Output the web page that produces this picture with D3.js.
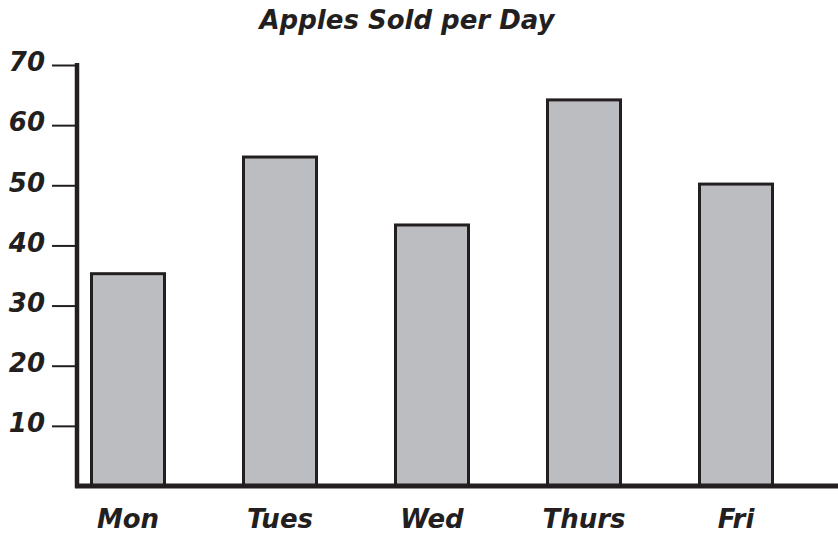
<!DOCTYPE html>
<html>
<head>
<meta charset="utf-8">
<script src="https://cdn.jsdelivr.net/npm/d3@7"></script>
<style>
  body { margin: 0; background: #fff; }
  text { font-family: "DejaVu Sans", sans-serif; font-weight: bold; font-style: italic; fill: #231f20; }
</style>
</head>
<body>
<div id="chart"></div>
<script>
// data
var days = ["Mon", "Tues", "Wed", "Thurs", "Fri"];
var apples = [35.3, 54.7, 43.4, 64.2, 50.2];
var yTicks = [10, 20, 30, 40, 50, 60, 70];

var width = 838, height = 533;

const svg = d3.select("#chart")
  .append("svg")
    .attr("width", width)
    .attr("height", height);

var x = d3.scaleBand()
  .domain(days)
  .range([52, 812])
  .paddingInner(0.5)
  .paddingOuter(0.25);

var y = d3.scaleLinear()
  .domain([0, 70])
  .range([486, 65]);

// bars
svg.selectAll("rect.bar")
  .data(days)
  .enter()
  .append("rect")
    .attr("class", "bar")
    .attr("x", (d, i) => x(d) + 1.5)
    .attr("y", (d, i) => y(apples[i]))
    .attr("width", x.bandwidth() - 3)
    .attr("height", (d, i) => y(0) - y(apples[i]))
    .attr("fill", "#bcbdc1")
    .attr("stroke", "#231f20")
    .attr("stroke-width", 3);

// y axis
var yAxis = svg.append("g")
  .attr("transform", "translate(77,0)")
  .call(d3.axisLeft(y).tickValues(yTicks).tickSize(24).tickPadding(6));
yAxis.select(".domain").remove();
yAxis.selectAll(".tick line").attr("stroke", "#231f20").attr("stroke-width", 2).attr("x2", -2).attr("x1", -25);
yAxis.selectAll(".tick text").attr("font-size", 26).attr("x", -32).attr("dy", "0.22em");
svg.append("line")
  .attr("x1", 77).attr("x2", 77)
  .attr("y1", y(70) - 2).attr("y2", y(0) + 2)
  .attr("stroke", "#231f20").attr("stroke-width", 4.5);

// baseline
svg.append("line")
  .attr("x1", 75).attr("x2", width)
  .attr("y1", y(0)).attr("y2", y(0))
  .attr("stroke", "#231f20").attr("stroke-width", 5);

// x labels
svg.selectAll("text.day")
  .data(days)
  .enter()
  .append("text")
    .attr("class", "day")
    .attr("x", d => x(d) + x.bandwidth() / 2)
    .attr("y", 528)
    .attr("text-anchor", "middle")
    .attr("font-size", 26)
    .text(d => d);

// title
svg.append("text")
  .attr("x", 407)
  .attr("y", 29)
  .attr("text-anchor", "middle")
  .attr("font-size", 26)
  .text("Apples Sold per Day");
</script>
</body>
</html>
